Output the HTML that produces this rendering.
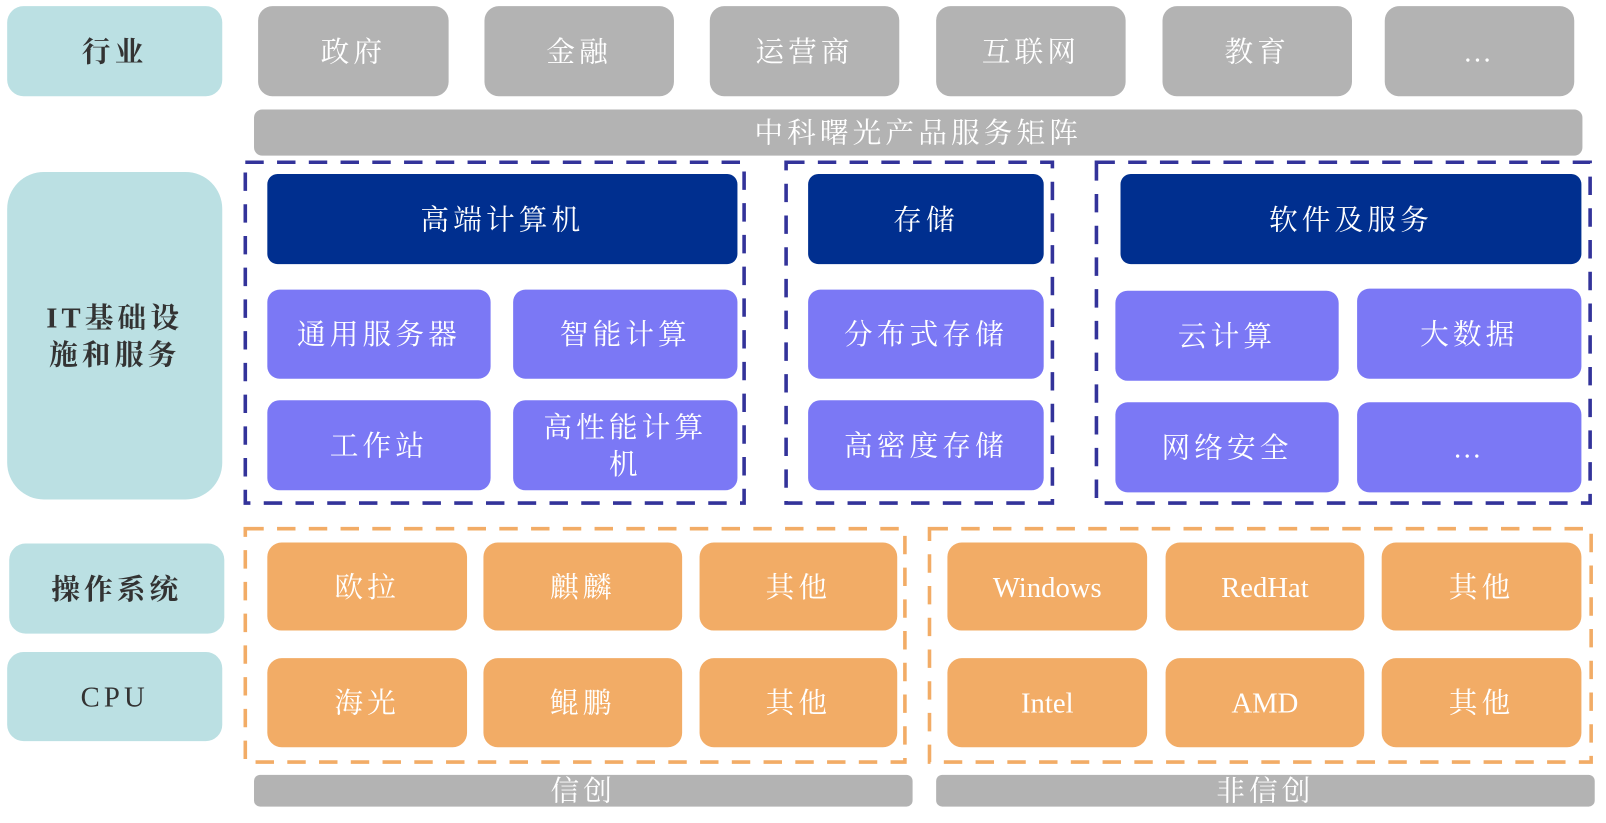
<!DOCTYPE html>
<html><head><meta charset="utf-8"><style>
html,body{margin:0;padding:0;background:#fff;overflow:hidden}
#c{position:relative;width:1568px;height:804px;transform:scale(1.02423,1.0236);transform-origin:0 0}
.b{position:absolute;display:flex;align-items:center;justify-content:center;text-align:center;box-sizing:border-box;font-family:"Liberation Serif","Noto Serif CJK SC",serif;font-size:28px;letter-spacing:4px;color:#fff;line-height:1.3;padding-top:4px}
.t{background:#bbe0e3;color:#333;border-radius:16px;font-weight:bold}
.g{background:#b3b3b3;border-radius:14px}
.d{background:#002f8f;border-radius:10px}
.p{background:#7b78f5;border-radius:12px}
.o{background:#f2ac66;border-radius:14px}
svg{position:absolute;left:0;top:0}
</style></head><body><div id="c">
<svg width="1568" height="804" fill="none" stroke-width="3.5" stroke-dasharray="18 13">
<g stroke="#33339a">
<rect x="239.5" y="158.5" width="487" height="333"/>
<rect x="767.5" y="158.5" width="260" height="333"/>
<rect x="1070.5" y="158.5" width="482" height="333"/>
</g>
<g stroke="#f2ac66">
<rect x="239.5" y="516.5" width="644" height="228"/>
<rect x="907.5" y="516.5" width="646" height="228"/>
</g>
</svg>
<div class="b t" style="left:7px;top:6px;width:210px;height:88px">行业</div>
<div class="b g" style="left:252px;top:6px;width:186px;height:88px">政府</div>
<div class="b g" style="left:473px;top:6px;width:185px;height:88px">金融</div>
<div class="b g" style="left:693px;top:6px;width:185px;height:88px">运营商</div>
<div class="b g" style="left:914px;top:6px;width:185px;height:88px">互联网</div>
<div class="b g" style="left:1135px;top:6px;width:185px;height:88px">教育</div>
<div class="b g" style="left:1352px;top:6px;width:185px;height:88px">…</div>
<div class="b g" style="left:248px;top:107px;width:1297px;height:45px;border-radius:8px">中科曙光产品服务矩阵</div>

<div class="b t" style="left:7px;top:168px;width:210px;height:320px;border-radius:36px">IT基础设<br>施和服务</div>
<div class="b d" style="left:261px;top:170px;width:459px;height:88px">高端计算机</div>
<div class="b d" style="left:789px;top:170px;width:230px;height:88px">存储</div>
<div class="b d" style="left:1094px;top:170px;width:450px;height:88px">软件及服务</div>
<div class="b p" style="left:261px;top:283px;width:218px;height:87px">通用服务器</div>
<div class="b p" style="left:501px;top:283px;width:219px;height:87px">智能计算</div>
<div class="b p" style="left:261px;top:391px;width:218px;height:88px">工作站</div>
<div class="b p" style="left:501px;top:391px;width:219px;height:88px">高性能计算<br>机</div>
<div class="b p" style="left:789px;top:283px;width:230px;height:87px">分布式存储</div>
<div class="b p" style="left:789px;top:391px;width:230px;height:88px">高密度存储</div>
<div class="b p" style="left:1089px;top:284px;width:218px;height:88px">云计算</div>
<div class="b p" style="left:1325px;top:282px;width:219px;height:88px">大数据</div>
<div class="b p" style="left:1089px;top:393px;width:218px;height:88px">网络安全</div>
<div class="b p" style="left:1325px;top:393px;width:219px;height:88px">…</div>

<div class="b t" style="left:9px;top:531px;width:210px;height:88px">操作系统</div>
<div class="b t" style="left:7px;top:637px;width:210px;height:87px;font-weight:normal">CPU</div>
<div class="b o" style="left:261px;top:530px;width:195px;height:86px">欧拉</div>
<div class="b o" style="left:472px;top:530px;width:194px;height:86px">麒麟</div>
<div class="b o" style="left:683px;top:530px;width:193px;height:86px">其他</div>
<div class="b o" style="left:261px;top:643px;width:195px;height:87px">海光</div>
<div class="b o" style="left:472px;top:643px;width:194px;height:87px">鲲鹏</div>
<div class="b o" style="left:683px;top:643px;width:193px;height:87px">其他</div>
<div class="b o" style="left:925px;top:530px;width:195px;height:86px;letter-spacing:0">Windows</div>
<div class="b o" style="left:1138px;top:530px;width:194px;height:86px;letter-spacing:0">RedHat</div>
<div class="b o" style="left:1349px;top:530px;width:195px;height:86px">其他</div>
<div class="b o" style="left:925px;top:643px;width:195px;height:87px;letter-spacing:0">Intel</div>
<div class="b o" style="left:1138px;top:643px;width:194px;height:87px;letter-spacing:0">AMD</div>
<div class="b o" style="left:1349px;top:643px;width:195px;height:87px">其他</div>

<div class="b g" style="left:248px;top:757px;width:643px;height:31px;border-radius:6px">信创</div>
<div class="b g" style="left:914px;top:757px;width:643px;height:31px;border-radius:6px">非信创</div>
</div></body></html>
